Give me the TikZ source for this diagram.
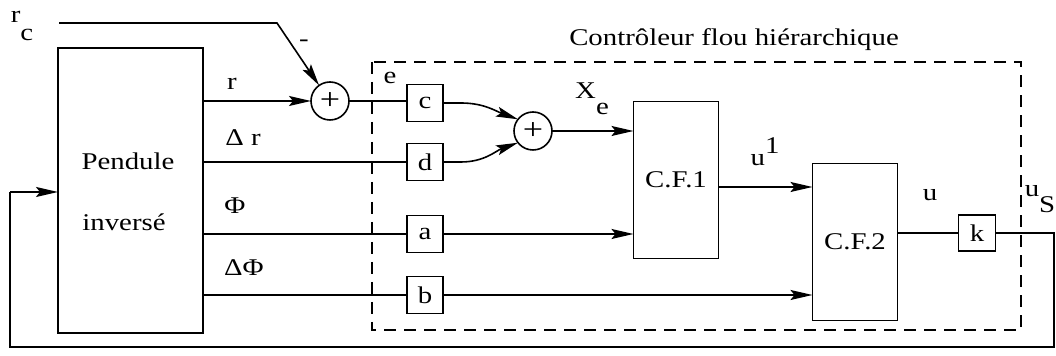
\documentclass[tikz,border=0pt]{standalone}
\usepackage{fontspec}
\setmainfont{Liberation Serif}[FakeStretch=1.2]
\usetikzlibrary{arrows.meta,calc}
\begin{document}
\begin{tikzpicture}[x=0.5pt,y=-0.5pt,
  every node/.style={font=\fontsize{12}{14}\selectfont},
  ln/.style={line width=0.8pt},
  arr/.style={ln,-{Stealth[length=11pt,width=5pt,inset=2pt]}},
  blk/.style={draw,ln,inner sep=0pt,outer sep=0pt},
  gain/.style={blk,minimum width=18pt,minimum height=18.5pt},
  bigbox/.style={blk,minimum width=42.5pt,minimum height=78.5pt},
  sumc/.style={draw,ln,circle,minimum size=19pt,inner sep=0pt,outer sep=0pt,font=\fontsize{15}{15}\selectfont},
  lbl/.style={inner sep=0pt}]
\useasboundingbox (0,0) rectangle (1056,356);
% blocks
\node[blk,minimum width=72.5pt,minimum height=142.5pt] (pend) at (130.5,190.5) {};
\node[lbl] at (128,161) {Pendule};
\node[lbl] at (124,222) {inversé};
\node[sumc] (s1) at (330,101) {+};
\node[gain] (c) at (425,103) {c};
\node[gain] (d) at (425,162) {d};
\node[gain] (a) at (425,234) {a};
\node[gain] (b) at (425,295) {b};
\node[sumc] (s2) at (533,131) {+};
\node[bigbox] (cf1) at (676,180) {C.F.1};
\node[bigbox] (cf2) at (855,242) {C.F.2};
\node[gain,minimum width=18.5pt,minimum height=18pt] (k) at (977,233) {k};
% dashed frame
\draw[ln,dash pattern=on 6pt off 4pt] (372,62) rectangle (1021,330);
\node[lbl] (title) at (734,40) {Contrôleur flou hiérarchique};
% reference input
\node[lbl] (rc) at (22,26) {r\raisebox{-1.7ex}{c}};
\coordinate (rc0) at (59,23);
\coordinate (rc1) at (277,23);
\draw[arr] (rc0) -- (rc1) -- (s1.125);
\node[lbl] at (304,43) {-};
% outputs of the pendulum
\draw[arr] (pend.east |- s1) -- (s1.west);
\node[lbl] at (232,84) {r};
\draw[ln] (s1.east) -- (s1.east -| c.west);
\node[lbl] at (390,78) {e};
\draw[ln] (pend.east |- d) -- (d.west);
\node[lbl] at (243,138) {Δ r};
\draw[ln] (pend.east |- a) -- (a.west);
\node[lbl] at (235,206) {Φ};
\draw[ln] (pend.east |- b) -- (b.west);
\node[lbl] at (244,268) {ΔΦ};
% gains to second sum
\draw[arr] (c.east) -- ++(18,0) to[out=0,in=160] (s2.142);
\draw[arr] (d.east) -- ++(18,0) to[out=0,in=200] (s2.218);
\draw[arr] (s2.east) -- (s2.east -| cf1.west);
\node[lbl] at (592,99) {X\raisebox{-1.5ex}{e}};
\draw[arr] (a.east) -- (a.east -| cf1.west);
\draw[arr] (b.east) -- (b.east -| cf2.west);
% CF1 to CF2
\draw[arr] ($(cf1.east)+(0,7)$) -- ($(cf1.east -| cf2.west)+(0,7)$);
\node[lbl] at (765,152) {u\raisebox{1.1ex}{1}};
% CF2 to k
\draw[ln] (cf2.east |- k) -- (k.west);
\node[lbl] at (930,195) {u};
% feedback
\coordinate (f1) at (1054,233);
\coordinate (f2) at (1054,347);
\coordinate (f3) at (10,347);
\coordinate (f4) at (10,192);
\draw[ln] (k.east) -- (f1) -- (f2) -- (f3) -- (f4);
\draw[arr] (f4) -- (f4 -| pend.west);
\node[lbl] at (1040,199) {u\raisebox{-1.5ex}{S}};
\end{tikzpicture}
\end{document}
